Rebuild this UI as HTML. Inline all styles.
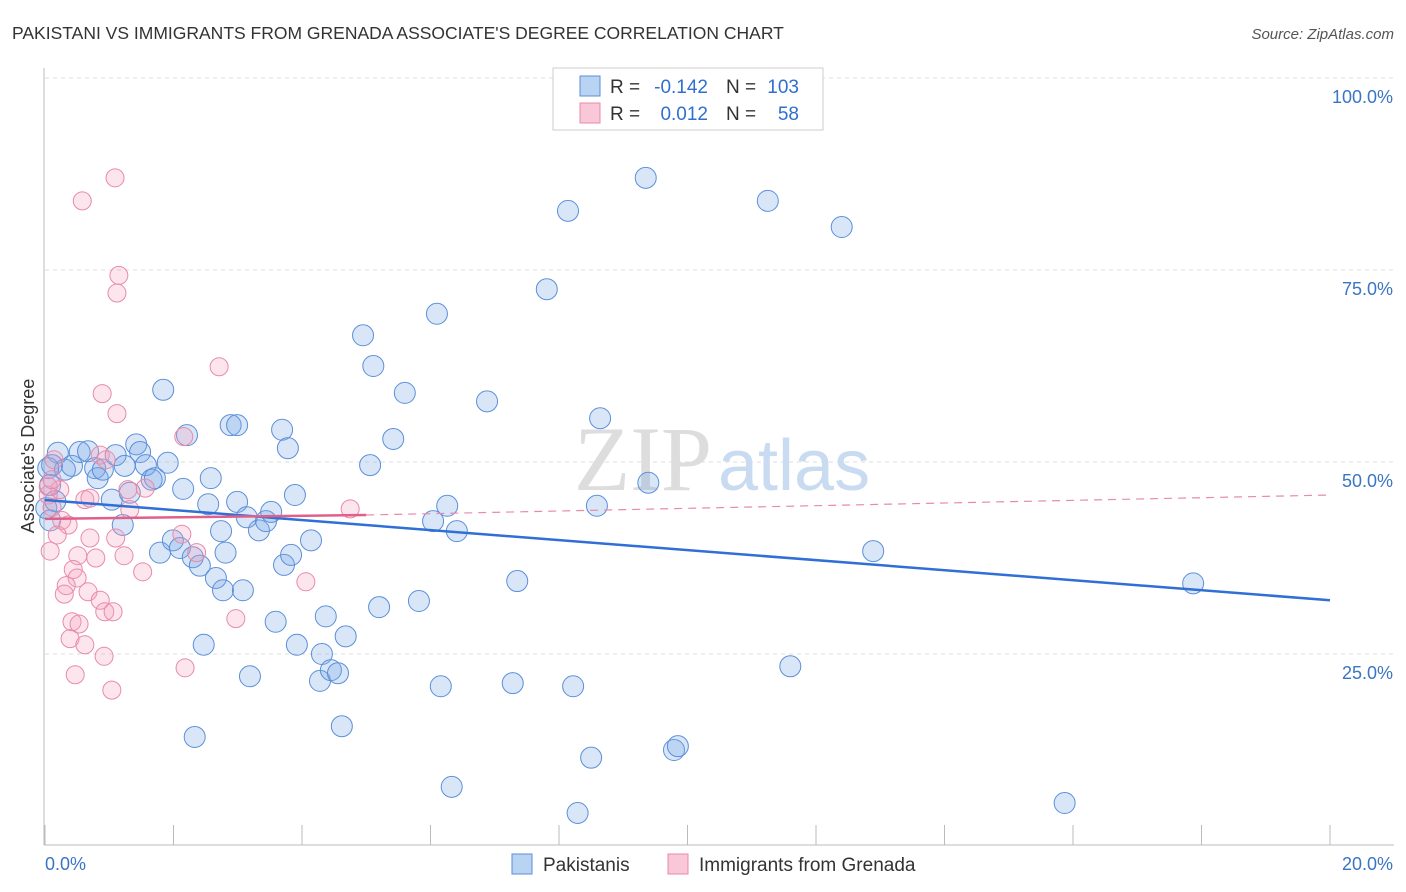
<!DOCTYPE html>
<html><head><meta charset="utf-8"><style>
body{margin:0;background:#fff;font-family:"Liberation Sans",sans-serif}
svg{display:block}
</style></head><body>
<svg width="1406" height="892" xmlns="http://www.w3.org/2000/svg">
<text x="12" y="39" font-size="17.5" fill="#333">PAKISTANI VS IMMIGRANTS FROM GRENADA ASSOCIATE'S DEGREE CORRELATION CHART</text>
<text x="1394" y="39" font-size="15" fill="#555" font-style="italic" text-anchor="end">Source: ZipAtlas.com</text>
<g id="grid"></g>
<text x="712" y="490" font-size="92" fill="#ddd" text-anchor="end" font-family="Liberation Serif,serif">ZIP</text>
<text x="718" y="490" font-size="72" fill="#c9dbf0">atlas</text>
<g id="pts"></g>
<g id="lines"></g>
<text transform="translate(34,456) rotate(-90)" font-size="18" fill="#333" text-anchor="middle">Associate's Degree</text>
<text x="45" y="870" font-size="18" fill="#3a75c4">0.0%</text>
<text x="1393" y="870" font-size="18" fill="#3a75c4" text-anchor="end">20.0%</text>
<g>
<rect x="553" y="68" width="270" height="62" fill="#fff" stroke="#ccc"/>
<rect x="580" y="76" width="20" height="20" fill="#b9d3f3" stroke="#5b8fd9"/>
<rect x="580" y="103" width="20" height="20" fill="#f9c8d8" stroke="#e98aa9"/>
<text x="610" y="93" font-size="19" fill="#333">R =</text>
<text x="708" y="93" font-size="19" fill="#2f6fcf" text-anchor="end">-0.142</text>
<text x="726" y="93" font-size="19" fill="#333">N =</text>
<text x="799" y="93" font-size="19" fill="#2f6fcf" text-anchor="end">103</text>
<text x="610" y="120" font-size="19" fill="#333">R =</text>
<text x="708" y="120" font-size="19" fill="#2f6fcf" text-anchor="end">0.012</text>
<text x="726" y="120" font-size="19" fill="#333">N =</text>
<text x="799" y="120" font-size="19" fill="#2f6fcf" text-anchor="end">58</text>
</g>
<g>
<rect x="512" y="854" width="20" height="20" fill="#b9d3f3" stroke="#5b8fd9"/>
<text x="543" y="871" font-size="19" fill="#333">Pakistanis</text>
<rect x="668" y="854" width="20" height="20" fill="#f9c8d8" stroke="#e98aa9"/>
<text x="699" y="871" font-size="19" fill="#333">Immigrants from Grenada</text>
</g>
</svg>
<script>
const yTicks=[100,75,50,25];
const yTickLabels=["100.0%","75.0%","50.0%","25.0%"];
const xTickVals=[0,2,4,6,8,10,12,14,16,18,20];
const blueX=[0.20,0.11,0.31,0.42,0.54,0.67,0.78,0.82,0.90,1.04,1.10,1.24,1.21,1.32,1.42,1.48,1.57,1.66,1.71,1.84,1.91,1.79,1.99,2.10,2.15,2.21,2.30,2.41,2.33,2.47,2.54,2.58,2.66,2.74,2.77,2.81,2.89,2.99,2.99,3.08,3.14,3.19,3.33,3.44,3.52,3.59,3.69,3.72,3.78,3.83,3.89,3.92,4.14,4.28,4.31,4.37,4.45,4.56,4.62,4.68,4.95,5.11,5.06,5.20,5.42,5.60,5.82,6.10,6.04,6.16,6.26,6.33,6.41,6.88,7.28,7.35,7.81,8.14,8.22,8.29,8.50,8.59,8.64,9.35,9.39,9.79,9.85,11.25,11.60,12.40,12.89,15.87,17.87,0.05,0.08,0.02,0.16,0.08];
const blueY=[51.2,49.6,49.0,49.5,51.3,51.4,49.2,47.9,49.0,45.1,50.9,49.5,41.8,46.0,52.3,51.3,49.6,47.7,47.9,59.4,49.9,38.2,39.8,38.8,46.5,53.5,37.6,36.5,14.2,26.2,44.5,47.9,34.9,41.0,33.3,38.2,54.8,54.8,44.8,33.3,42.8,22.1,41.1,42.3,43.5,29.2,54.2,36.6,51.8,37.9,45.7,26.2,39.8,21.5,25.0,29.9,22.9,22.5,15.6,27.3,66.5,62.5,49.6,31.1,53.0,59.0,31.9,69.3,42.3,20.8,44.3,7.7,41.0,57.9,21.2,34.5,72.5,82.7,20.8,4.3,11.5,44.3,55.7,87.0,47.3,12.5,13.0,84.0,23.4,80.6,38.4,5.6,34.2,49.2,47.0,44.0,44.9,42.4];
const pinkX=[1.09,0.58,1.15,1.12,2.71,0.89,1.12,2.16,0.86,0.95,0.14,0.23,0.05,0.11,0.26,0.36,0.19,0.08,0.62,0.70,1.29,1.56,1.32,1.10,0.70,0.51,0.79,1.23,2.13,2.36,0.44,0.50,0.33,0.30,0.67,0.86,0.93,1.06,1.52,2.97,4.06,4.75,0.42,0.53,0.39,0.62,0.92,0.47,1.04,2.18,0.05,0.11];
const pinkY=[87.0,84.0,74.3,72.0,62.4,58.9,56.3,53.3,50.9,50.3,50.3,46.4,45.7,44.1,42.4,41.8,40.5,38.4,45.1,45.3,46.4,46.6,43.8,40.1,40.1,37.8,37.5,37.8,40.6,38.2,36.0,34.9,33.9,32.8,33.1,32.0,30.5,30.5,35.7,29.6,34.4,43.9,29.2,28.9,27.0,26.2,24.7,22.3,20.3,23.2,46.8,47.7];
const blueTrend=[[0,45.05],[20,32.0]];
const pinkTrendSolid=[[0,42.6],[5.0,43.1]];
const pinkTrendDash=[[5.0,43.1],[20,45.7]];
const NS="http://www.w3.org/2000/svg";
const X=v=>45+v/20*1285, Y=v=>846-v*7.68;
function mk(t,a,p){const e=document.createElementNS(NS,t);for(const k in a)e.setAttribute(k,a[k]);p.appendChild(e);return e;}
const grid=document.getElementById('grid');
mk('line',{x1:44,y1:68,x2:44,y2:845,stroke:'#bbb'},grid);
mk('line',{x1:44,y1:845,x2:1394,y2:845,stroke:'#bbb'},grid);
yTicks.forEach((t,i)=>{
 const l=mk('line',{x1:45,x2:1394,y1:Y(t),y2:Y(t),stroke:'#ddd','stroke-dasharray':'4,4'},grid);
 
 
 const tx=mk('text',{x:1393,y:Y(t)+25,'font-size':18,fill:'#3a75c4','text-anchor':'end'},grid);
 tx.textContent=yTickLabels[i];
 
 
});
xTickVals.forEach(v=>{
 const l=mk('line',{x1:X(v),x2:X(v),y1:825,y2:845,stroke:'#bbb'},grid);
 
 
});
const pts=document.getElementById('pts');
blueX.forEach((v,i)=>{
 const c=mk('circle',{cx:X(v),cy:Y(blueY[i]),r:10.5,fill:'rgba(120,165,230,0.28)',stroke:'#5b8fd9','stroke-width':1},pts);
 
 
});
pinkX.forEach((v,i)=>{
 const c=mk('circle',{cx:X(v),cy:Y(pinkY[i]),r:9,fill:'rgba(245,160,190,0.28)',stroke:'#e98aa9','stroke-width':1},pts);
 
 
});
const lines=document.getElementById('lines');
const bl=mk('line',{x1:X(blueTrend[0][0]),y1:Y(blueTrend[0][1]),x2:X(blueTrend[1][0]),y2:Y(blueTrend[1][1]),stroke:'#2f6fd6','stroke-width':2.5},lines);


const pl=mk('line',{x1:X(pinkTrendSolid[0][0]),y1:Y(pinkTrendSolid[0][1]),x2:X(pinkTrendSolid[1][0]),y2:Y(pinkTrendSolid[1][1]),stroke:'#e0608a','stroke-width':2.5},lines);


const pd=mk('line',{x1:X(pinkTrendDash[0][0]),y1:Y(pinkTrendDash[0][1]),x2:X(pinkTrendDash[1][0]),y2:Y(pinkTrendDash[1][1]),stroke:'#e98aa9','stroke-width':1.2,'stroke-dasharray':'8,6'},lines);


</script>
</body></html>
